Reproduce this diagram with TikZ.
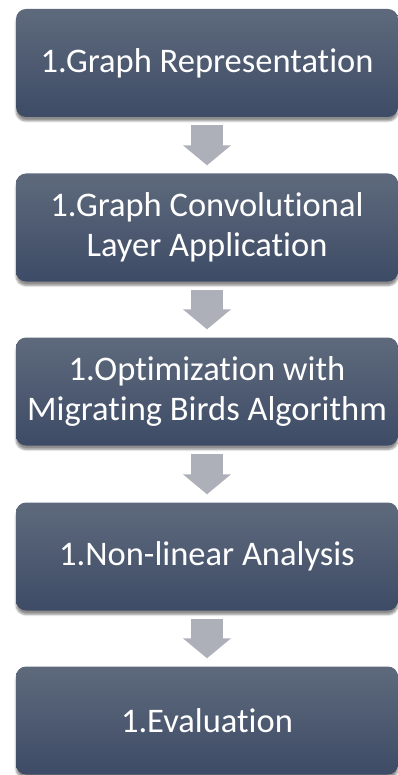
\documentclass[tikz,border=0pt]{standalone}
\usepackage{fontspec}
\setmainfont{Carlito}[Ligatures=NoCommon]
\usetikzlibrary{arrows.meta,positioning,shadows.blur}
\definecolor{BoxTop}{HTML}{5E6A7C}
\definecolor{BoxBot}{HTML}{3D4B66}
\definecolor{Pipe}{HTML}{ADB0B8}

\begin{document}
\begin{tikzpicture}[x=1pt,y=1pt,
  stage/.style={rounded corners=10pt,top color=BoxTop,bottom color=BoxBot,minimum width=382pt,minimum height=108pt,inner sep=0pt,align=center,text=white,font=\fontsize{34.5}{40}\selectfont,blur shadow={shadow xshift=0pt,shadow yshift=-4pt,shadow blur steps=6,shadow opacity=45}},
  flow/.style={Pipe,line width=32pt,-{Triangle[width=47pt,length=20pt]},shorten <=8pt,shorten >=8pt}]
\useasboundingbox (0,0) rectangle (398,-775);
\node[stage] (rep) at (207,-63) {1.Graph Representation};
\node[stage] (conv) at (207,-227.5) {1.Graph Convolutional\\Layer Application};
\node[stage] (opt) at (207,-391.5) {1.Optimization with\\Migrating Birds Algorithm};
\node[stage] (nonlin) at (207,-556.5) {1.Non-linear Analysis};
\node[stage] (eval) at (207,-720.5) {1.Evaluation};
\draw[flow] (rep.south) -- (conv.north);
\draw[flow] (conv.south) -- (opt.north);
\draw[flow] (opt.south) -- (nonlin.north);
\draw[flow] (nonlin.south) -- (eval.north);
\end{tikzpicture}
\end{document}
